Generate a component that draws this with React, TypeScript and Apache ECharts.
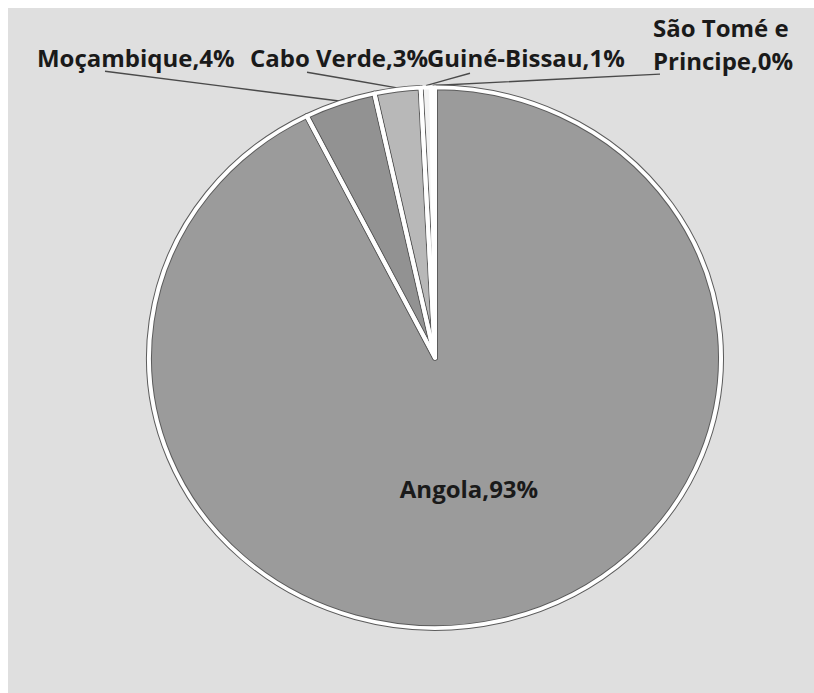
import React, { useEffect, useRef } from "react";
import * as echarts from "echarts";

// ---- data ----
const categories = ["Angola", "Moçambique", "Cabo Verde", "Guiné-Bissau", "São Tomé e Principe"];
const labelNames = ["Angola", "Moçambique", "Cabo Verde", "Guiné-Bissau", "São Tomé e\nPrincipe"];
const shares = [92.6, 4.0, 2.6, 0.6, 0.2];
const shownPercent = [93, 4, 3, 1, 0];

// ---- styling / layout ----
const sliceColors = ["#9b9b9b", "#929292", "#b8b8b8", "#f3f3f3", "#f7f7f7"];
const outlineColors = ["#5c5c5c", "#5c5c5c", "#5c5c5c", "transparent", "transparent"];
const SQUASH = 0.945; // the reference picture is slightly wider than tall
const CHART_W = 806;
const CHART_H = Math.round(685 / SQUASH);
const CX = 427;
const CY = 370;
const R = 286;
const labelAnchors = [
  { x: 461, y: 509, align: "center" },
  { x: 29, y: 53, align: "left" },
  { x: 242, y: 53, align: "left" },
  { x: 419, y: 53, align: "left" },
  { x: 645, y: 39, align: "left" },
];
const lineEnds: (number[] | null)[] = [null, [97, 67], [299, 68], [462, 69], [652, 70]];

export default function App() {
  const ref = useRef<HTMLDivElement>(null);

  useEffect(() => {
    if (!ref.current) return;
    const chart = echarts.init(ref.current, undefined, { renderer: "svg" });
    const total = shares.reduce((a, b) => a + b, 0);
    const rimPoints: number[][] = [];
    let cum = 0;
    shares.forEach((v) => {
      const a = ((cum + v / 2) / total) * Math.PI * 2;
      rimPoints.push([CX + (R + 2) * Math.sin(a), CY - (R + 2) * Math.cos(a)]);
      cum += v;
    });

    const base = {
      type: "pie",
      center: [CX, CY],
      radius: R,
      startAngle: 90,
      clockwise: true,
      avoidLabelOverlap: false,
      silent: true,
      emphasis: { disabled: true },
    };

    chart.setOption({
      animation: false,
      backgroundColor: "#dfdfdf",
      series: [
        {
          ...base,
          name: "fill",
          label: { show: false },
          labelLine: { show: false },
          data: categories.map((c, i) => ({
            name: c,
            value: shares[i],
            itemStyle: { color: sliceColors[i], borderWidth: 0 },
          })),
        },
        {
          ...base,
          name: "outline",
          label: { show: false },
          labelLine: { show: false },
          data: categories.map((c, i) => ({
            name: c,
            value: shares[i],
            itemStyle: { color: "transparent", borderColor: outlineColors[i], borderWidth: 6 },
          })),
        },
        {
          ...base,
          name: "Países",
          label: {
            show: true,
            position: "outside",
            color: "#1a1a1a",
            fontFamily: "Open Sans",
            fontWeight: "bold",
            fontSize: 24,
            lineHeight: 35,
            formatter: (p: any) => `${labelNames[p.dataIndex]},${shownPercent[p.dataIndex]}%`,
          },
          labelLine: {
            show: true,
            lineStyle: { color: "#4a4a4a", width: 1.5 },
          },
          labelLayout: (p: any) => {
            const i = p.dataIndex;
            const a = labelAnchors[i];
            const out: any = { x: a.x, y: a.y, align: a.align, verticalAlign: "middle" };
            const end = lineEnds[i];
            if (end) {
              const s = rimPoints[i];
              out.labelLinePoints = [s, [(s[0] + end[0]) / 2, (s[1] + end[1]) / 2], end];
            }
            return out;
          },
          data: categories.map((c, i) => ({
            name: c,
            value: shares[i],
            itemStyle: { color: "transparent", borderColor: "#ffffff", borderWidth: 4 },
            label: i === 0 ? { position: "inside" } : undefined,
            labelLine: i === 0 ? { show: false } : undefined,
          })),
        },
      ],
    });
    return () => chart.dispose();
  }, []);

  return (
    <div
      ref={ref}
      style={{
        position: "absolute",
        left: 8,
        top: 8,
        width: CHART_W,
        height: CHART_H,
        transform: `scaleY(${SQUASH})`,
        transformOrigin: "0 0",
      }}
    />
  );
}
